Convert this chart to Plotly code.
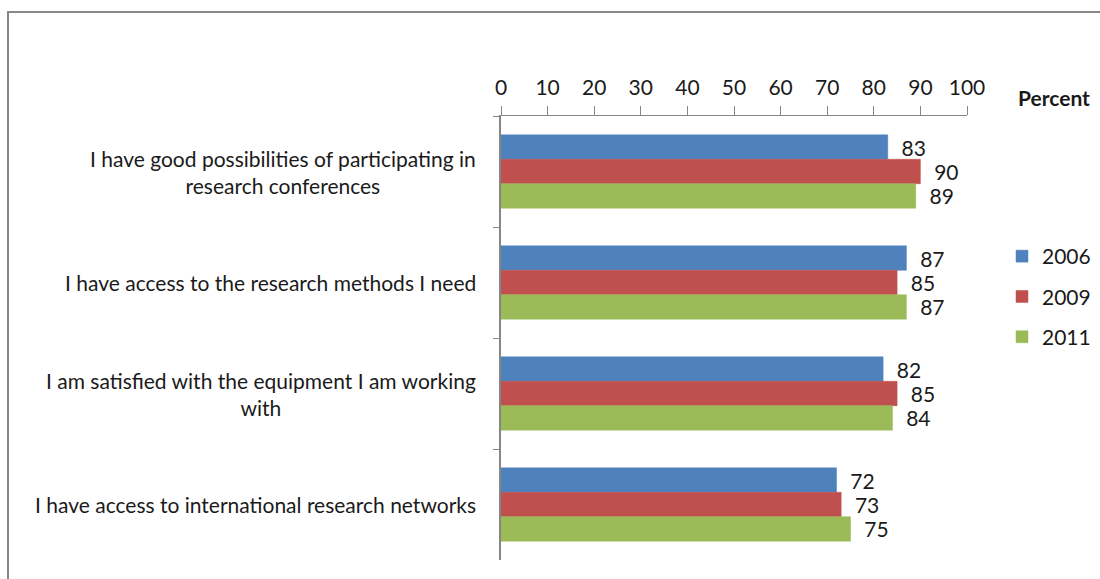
import plotly.graph_objects as go

categories = [
    "I have good possibilities of participating in<br>research conferences",
    "I have access to the research methods I need",
    "I am satisfied with the equipment I am working<br>with",
    "I have access to international research networks",
]
years = ["2006", "2009", "2011"]
values_2006 = [83, 87, 82, 72]
values_2009 = [90, 85, 85, 73]
values_2011 = [89, 87, 84, 75]
colors = ["#4F81BD", "#C0504D", "#9BBB59"]
x_ticks = list(range(0, 101, 10))

W, H = 1100, 579
L, R, T, B = 501, 133, 116, 19
pw = W - L - R
ph = H - T - B

def px_x(p):
    return (p - L) / pw

def px_y(p):
    return (H - B - p) / ph

FS = 21
FONT = "Lato, Carlito, 'Liberation Sans', sans-serif"
fig = go.Figure()
for name, vals, col in zip(years, [values_2006, values_2009, values_2011], colors):
    fig.add_trace(go.Bar(
        y=categories, x=vals, name=name, orientation="h",
        marker=dict(color=col, line=dict(color=col, width=0.5)),
        text=vals, texttemplate="\u00a0\u00a0%{x}", textposition="outside",
        textfont=dict(size=FS, color="#1a1a1a", family=FONT),
        constraintext="none", cliponaxis=False, legendgroup=name,
    ))

fig.update_layout(
    width=W, height=H,
    margin=dict(l=L, r=R, t=T, b=B, autoexpand=False),
    paper_bgcolor="white", plot_bgcolor="white",
    barmode="group", bargap=0.34, bargroupgap=0,
    font=dict(family=FONT, size=FS, color="#1a1a1a"),
    showlegend=True,
    legend=dict(x=px_x(1002), y=px_y(236), xanchor="left", yanchor="top",
                traceorder="grouped", tracegroupgap=10,
                font=dict(size=FS, family=FONT), bgcolor="rgba(0,0,0,0)"),
    xaxis=dict(side="top", range=[0, 100], tickvals=x_ticks, ticks="outside",
               ticklen=9, tickcolor="#868686", showline=True, linecolor="#868686",
               linewidth=1, showgrid=False, zeroline=False, ticklabelstandoff=3,
               tickfont=dict(size=FS, family=FONT, color="#1a1a1a")),
    yaxis=dict(autorange="reversed", showticklabels=False, ticks="outside",
               tickson="boundaries", ticklen=6, tickcolor="#868686",
               showline=True, linecolor="#868686", linewidth=1.5, showgrid=False),
)

for cat in categories:
    fig.add_annotation(xref="paper", yref="y", x=px_x(478), y=cat, text=cat,
                       xanchor="right", yanchor="middle", align="center",
                       showarrow=False, font=dict(size=FS, family=FONT, color="#1a1a1a"))

fig.add_annotation(xref="paper", yref="paper", x=px_x(1016), y=px_y(97),
                   text="<b>Percent</b>", xanchor="left", yanchor="middle",
                   showarrow=False, font=dict(size=FS, family=FONT, color="#1a1a1a"))

fig.add_shape(type="rect", xref="paper", yref="paper",
              x0=px_x(8), x1=px_x(1110), y0=px_y(600), y1=px_y(12),
              line=dict(color="#878787", width=2), fillcolor="rgba(0,0,0,0)", layer="below")

fig.write_html("out.html", config={"displayModeBar": False},
               post_script="document.body.style.margin='0';document.body.style.overflow='hidden';")
